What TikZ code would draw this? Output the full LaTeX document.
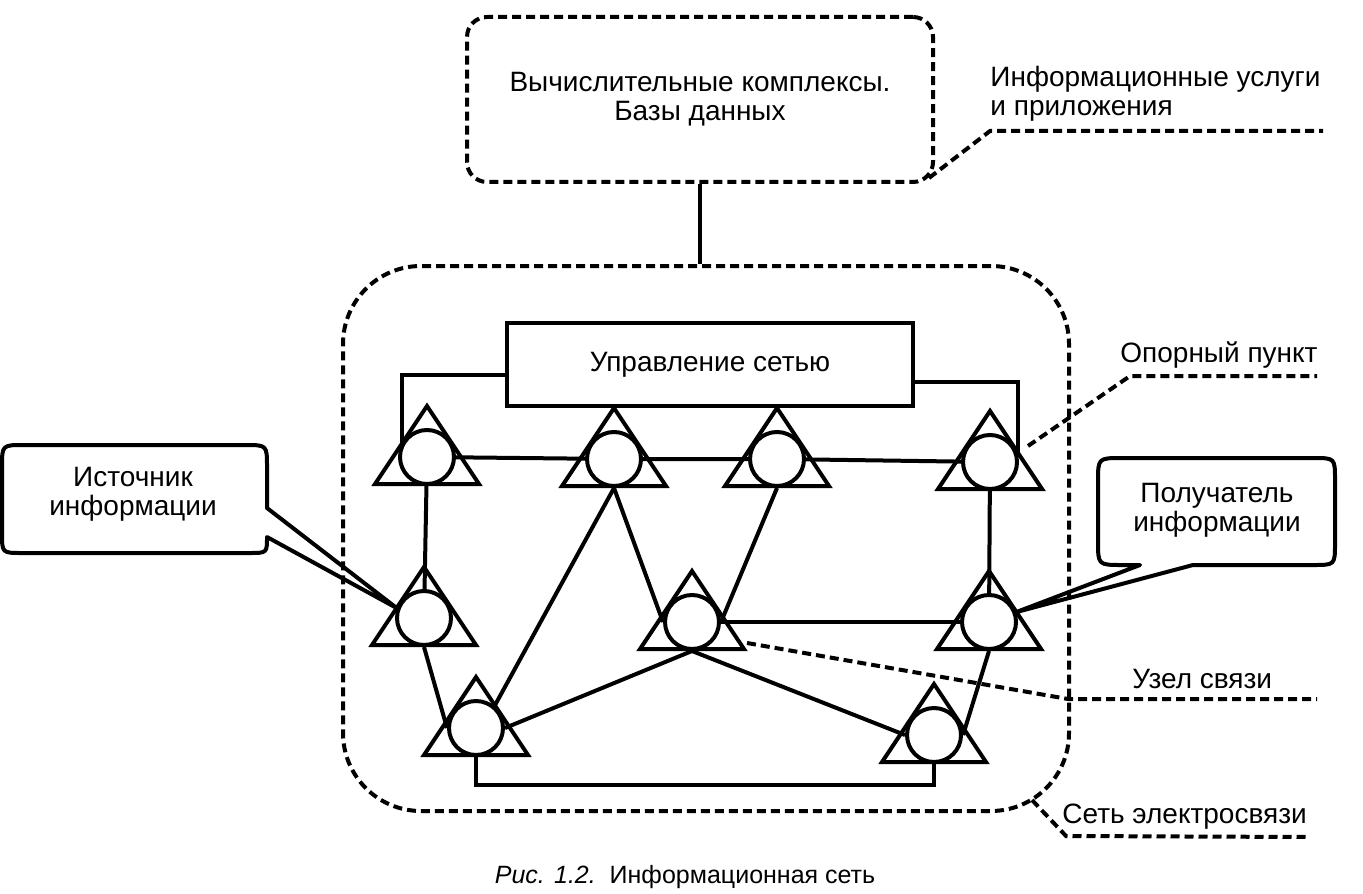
\documentclass[tikz,border=0pt]{standalone}
\usepackage{fontspec}
\setmainfont{Liberation Sans}
\usetikzlibrary{calc}
\pgfdeclarelayer{bg}
\pgfsetlayers{bg,main}
\newcommand\netnode[3]{%
  \node[netcirc] (#1) at (#2,#3) {};
  \draw[tri] ($(#1.center)+(0,-51)$) -- ($(#1.center)+(52,27)$) -- ($(#1.center)+(-52,27)$) -- cycle;
}
\begin{document}
\begin{tikzpicture}[x=0.5pt,y=-0.5pt,
  ln/.style={line width=2pt},
  dsh/.style={line width=2pt, dash pattern=on 4.5pt off 2.5pt},
  dbox/.style={draw, line width=2pt, dash pattern=on 4.5pt off 2.5pt, inner sep=0pt},
  netcirc/.style={circle, draw, fill=white, line width=2pt, minimum size=27pt, inner sep=0pt},
  tri/.style={line width=2pt, line join=miter},
  lbl/.style={font=\fontsize{14}{14.5}\selectfont, inner sep=0pt},
  capt/.style={font=\fontsize{12.5}{14}\selectfont, inner sep=0pt}]
\begin{pgfonlayer}{bg}
\fill[white] (0,0) rectangle (1363,893);
\end{pgfonlayer}
\useasboundingbox (0,0) rectangle (1363,893);

% boxes
\node[dbox, lbl, minimum width=233pt, minimum height=82.5pt, rounded corners=10pt, align=center] (top) at (700,99.5) {Вычислительные комплексы.\\Базы данных};
\node[dbox, minimum width=363pt, minimum height=272.5pt, rounded corners=39pt] (net) at (706,538.5) {};
\node[draw, ln, lbl, minimum width=203pt, minimum height=41.5pt] (ctl) at (710,364.5) {Управление сетью};

% network nodes
\netnode{n1}{427}{457}
\netnode{n2}{614}{459}
\netnode{n3}{777}{459}
\netnode{n4}{990}{462}
\netnode{n5}{424}{618}
\netnode{n6}{692}{622}
\netnode{n7}{989}{622}
\netnode{n8}{476}{728}
\netnode{n9}{934}{735}

\coordinate (c1) at ($(n1.center)+(-25,-13)$);
\coordinate (c4) at ($(n4.center)+(28,-9)$);

\begin{pgfonlayer}{bg}
\draw[ln] (n1.center) -- (n2.center) -- (n3.center) -- (n4.center);
\draw[ln] (n1.center) -- (n5.center);
\draw[ln] (n4.center) -- (n7.center);
\draw[ln] (n5.south) -- (n8.west);
\draw[ln] (n8.50) -- (n2.south);
\draw[ln] (n8.east) -- (n6.south);
\draw[ln] (n2.south) -- (n6.west);
\draw[ln] (n3.south) -- (n6.east);
\draw[ln] (n6.center) -- (n7.center);
\draw[ln] (n6.south) -- (n9.west);
\draw[ln] (n7.south) -- (n9.east);
\end{pgfonlayer}

\draw[ln] ($(ctl.west)+(0,10)$) -| (c1);
\draw[ln] ($(ctl.east)+(0,17)$) -| (c4);
\draw[ln] (n8.south) -- ++(0,28) -| (n9.south);
\draw[ln] (top.south) -- (top.south |- net.north);

% label leaders
\node[lbl, anchor=base west, align=left] (info) at (990,116) {Информационные услуги\\и приложения};
\coordinate (i0) at ($(top.south east)+(-6,-6)$);
\coordinate (i1) at (990,131);
\coordinate (i2) at (1323,131);
\draw[dsh] (i0) -- (i1) -- (i2);

\node[lbl, anchor=base west] (opl) at (1120,362) {Опорный пункт};
\coordinate (o0) at ($(n4.center)+(38,-16)$);
\coordinate (o1) at (1130,376);
\coordinate (o2) at (1317,376);
\draw[dsh] (o0) -- (o1) -- (o2);

\node[lbl, anchor=base west] (uzl) at (1132,688) {Узел связи};
\coordinate (u0) at ($(n6.center)+(55,21)$);
\coordinate (u1) at (1068,699);
\coordinate (u2) at (1317,699);
\draw[dsh] (u0) -- (u1) -- (u2);

\node[lbl, anchor=base west] (setl) at (1062,823) {Сеть электросвязи};
\coordinate (s0) at ($(net.south east)+(-39,-13)$);
\coordinate (s1) at (1066,836);
\coordinate (s2) at (1310,837);
\draw[dsh] (s0) -- (s1) -- (s2);

% callouts
\coordinate (a1) at (267,508);
\coordinate (a2) at (267,537);
\draw[ln, line join=round] (a1) -- (n5.160) -- (a2) .. controls (267,553) .. (249,553) -- (22,553) .. controls (2,553) .. (2,533) -- (2,467) .. controls (2,445) .. (24,445) -- (245,445) .. controls (267,445) .. (267,467) -- cycle;
\node[lbl, align=center] (src) at (133,494) {Источник\\информации};

\coordinate (b1) at (1140,565);
\coordinate (b2) at (1193,565);
\draw[ln, line join=round] (b1) -- (n7.20) -- (b2) -- (1313,565) .. controls (1335,565) .. (1335,543) -- (1335,480) .. controls (1335,458) .. (1313,458) -- (1122,458) .. controls (1098,458) .. (1098,482) -- (1098,541) .. controls (1098,565) .. (1122,565) -- cycle;
\node[lbl, align=center] (dst) at (1217,510) {Получатель\\информации};

% caption
\node[capt, anchor=base] (cap) at (685,883) {\textit{Рис. 1.2.}\ \ Информационная сеть};
\end{tikzpicture}
\end{document}
